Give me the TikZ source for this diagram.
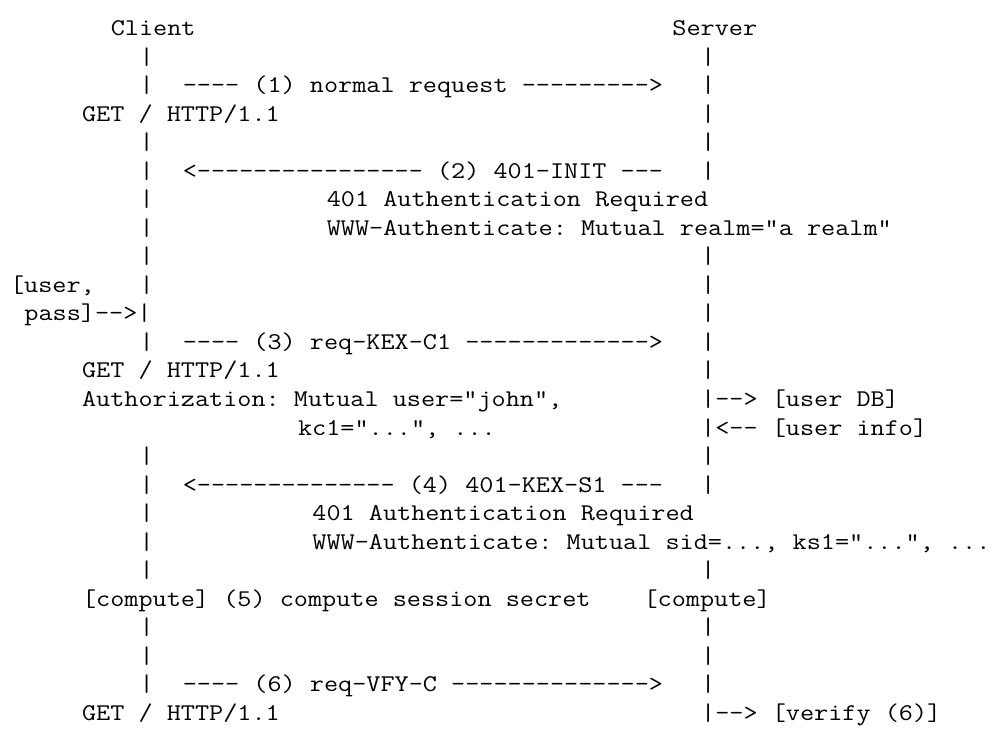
\documentclass[tikz,border=0pt]{standalone}
\usepackage{graphicx}
\ExplSyntaxOn
\NewDocumentCommand\asc{m}{
  \tl_set:Nn \l_tmpa_tl {#1}
  \tl_replace_all:Nnn \l_tmpa_tl {-} {\mbox{-}}
  \scalebox{1.142857}[1]{\tl_use:N \l_tmpa_tl}
}
\ExplSyntaxOff
\tikzset{
  txt/.style={anchor=base west, inner sep=0pt, outer sep=0pt, text=black,
    font=\fontsize{24}{24}\selectfont\ttfamily\frenchspacing}
}
\newcommand\seg[4]{\node[txt] (#1) at ({10+#2*14.4},{729-36-#3*28.5}) {\asc{#4}};}
\begin{document}
\begin{tikzpicture}[x=1pt,y=1pt]
\fill[white] (0,0) rectangle (1001,729);
\useasboundingbox (0,0) rectangle (1001,729);
\seg{l0a}{7}{0}{Client}
\seg{l0b}{46}{0}{Server}
\seg{l1a}{9}{1}{|}
\seg{l1b}{48}{1}{|}
\seg{l2a}{9}{2}{|}
\seg{l2b}{12}{2}{---- (1) normal request --------->}
\seg{l2c}{48}{2}{|}
\seg{l3a}{5}{3}{GET / HTTP/1.1}
\seg{l3b}{48}{3}{|}
\seg{l4a}{9}{4}{|}
\seg{l4b}{48}{4}{|}
\seg{l5a}{9}{5}{|}
\seg{l5b}{12}{5}{<---------------- (2) 401-INIT ---}
\seg{l5c}{48}{5}{|}
\seg{l6a}{9}{6}{|}
\seg{l6b}{22}{6}{401 Authentication Required}
\seg{l7a}{9}{7}{|}
\seg{l7b}{22}{7}{WWW-Authenticate: Mutual realm="a realm"}
\seg{l8a}{9}{8}{|}
\seg{l8b}{48}{8}{|}
\seg{l9a}{0}{9}{[user,}
\seg{l9b}{9}{9}{|}
\seg{l9c}{48}{9}{|}
\seg{l10a}{1}{10}{pass]-->|}
\seg{l10b}{48}{10}{|}
\seg{l11a}{9}{11}{|}
\seg{l11b}{12}{11}{---- (3) req-KEX-C1 ------------->}
\seg{l11c}{48}{11}{|}
\seg{l12a}{5}{12}{GET / HTTP/1.1}
\seg{l12b}{48}{12}{|}
\seg{l13a}{5}{13}{Authorization: Mutual user="john",}
\seg{l13b}{48}{13}{|--> [user DB]}
\seg{l14a}{20}{14}{kc1="...", ...}
\seg{l14b}{48}{14}{|<-- [user info]}
\seg{l15a}{9}{15}{|}
\seg{l15b}{48}{15}{|}
\seg{l16a}{9}{16}{|}
\seg{l16b}{12}{16}{<-------------- (4) 401-KEX-S1 ---}
\seg{l16c}{48}{16}{|}
\seg{l17a}{9}{17}{|}
\seg{l17b}{21}{17}{401 Authentication Required}
\seg{l18a}{9}{18}{|}
\seg{l18b}{21}{18}{WWW-Authenticate: Mutual sid=..., ks1="...", ...}
\seg{l19a}{9}{19}{|}
\seg{l19b}{48}{19}{|}
\seg{l20a}{5}{20}{[compute] (5) compute session secret}
\seg{l20b}{44}{20}{[compute]}
\seg{l21a}{9}{21}{|}
\seg{l21b}{48}{21}{|}
\seg{l22a}{9}{22}{|}
\seg{l22b}{48}{22}{|}
\seg{l23a}{9}{23}{|}
\seg{l23b}{12}{23}{---- (6) req-VFY-C -------------->}
\seg{l23c}{48}{23}{|}
\seg{l24a}{5}{24}{GET / HTTP/1.1}
\seg{l24b}{48}{24}{|--> [verify (6)]}
\end{tikzpicture}
\end{document}
